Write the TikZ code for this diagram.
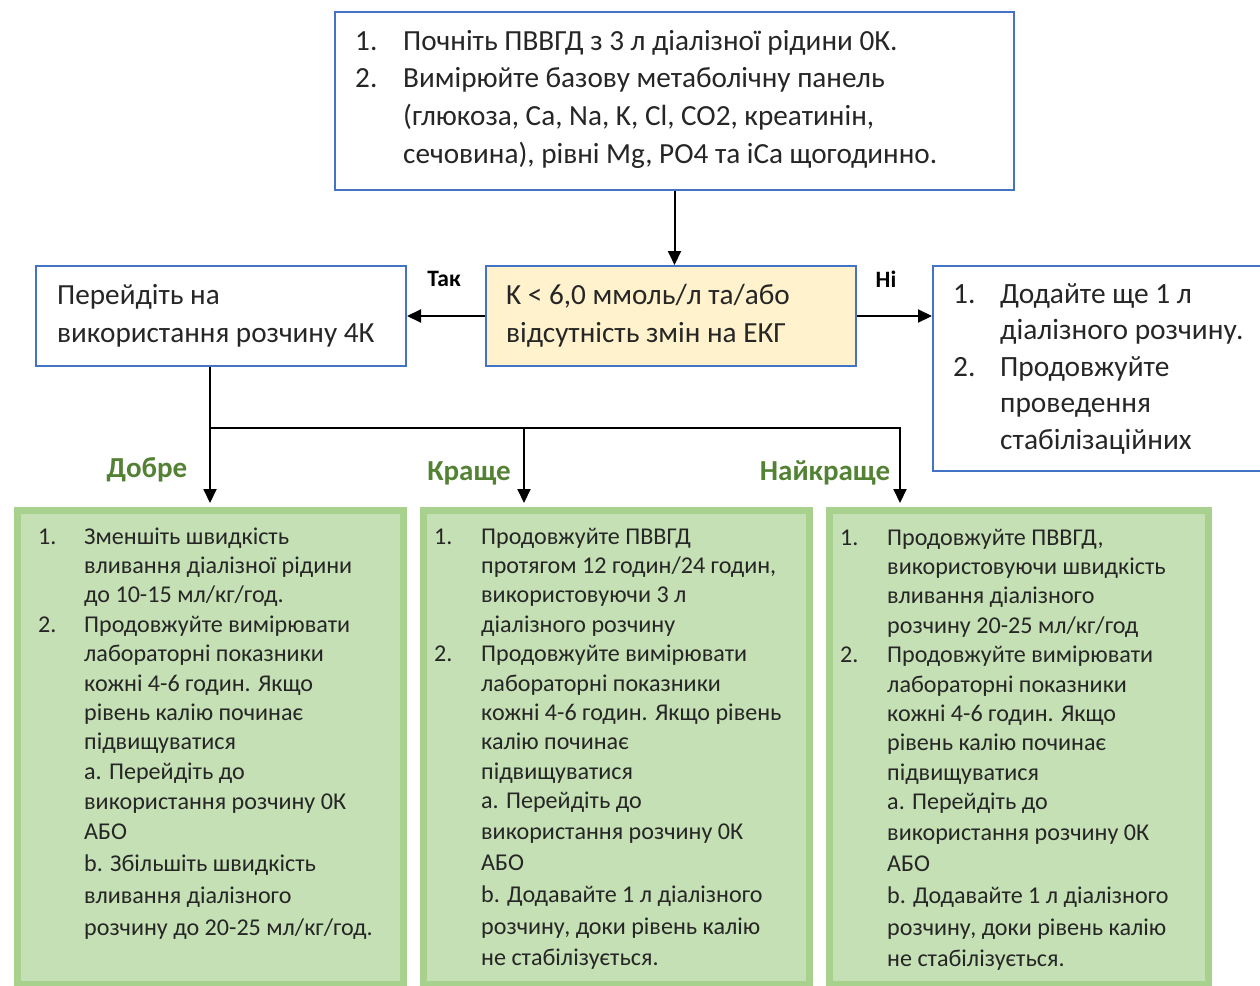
\documentclass[tikz,border=0pt]{standalone}
\usepackage{fontspec}
\setmainfont{Carlito}
\usepackage{array}
\usetikzlibrary{arrows.meta}
\definecolor{bblue}{HTML}{4472C4}
\definecolor{yel}{HTML}{FFF2CC}
\definecolor{gfill}{HTML}{C5E0B4}
\definecolor{gbord}{HTML}{A9D18E}
\definecolor{gshad}{RGB}{150,165,140}
\definecolor{glab}{HTML}{548235}
\definecolor{txt}{HTML}{262626}
\begin{document}
\begin{tikzpicture}[x=1pt,y=-1pt,
  bluebox/.style={draw=bblue, line width=2pt, fill=white, inner sep=0pt, anchor=north west},
  condbox/.style={draw=bblue, line width=2pt, fill=yel, inner sep=0pt, anchor=north west},
  greenbox/.style={draw=gbord, line width=7pt, fill=gfill, inner sep=0pt, anchor=north west},
  shadowbox/.style={fill=gshad, draw=none, inner sep=0pt, anchor=north west},
  flow/.style={line width=2pt, -{Triangle[width=13pt,length=14pt]}},
  plainline/.style={line width=2pt},
  lbl/.style={font=\fontsize{23.5}{26}\selectfont\bfseries, text=black, inner sep=0pt},
  glbl/.style={font=\fontsize{29}{32}\selectfont\bfseries, text=glab, inner sep=0pt},
  bigtxt/.style={font=\fontsize{29.2}{37.7}\selectfont, text=txt, inner sep=0pt, anchor=base west},
  midtxt/.style={font=\fontsize{29.2}{38}\selectfont, text=txt, inner sep=0pt, anchor=base west},
  rtxt/.style={font=\fontsize{29.4}{36.5}\selectfont, text=txt, inner sep=0pt, anchor=base west},
  gtxt/.style={font=\fontsize{24.1}{29.4}\selectfont, text=txt, inner sep=0pt, anchor=base west},
]
\useasboundingbox (0,0) rectangle (1260,985);
\clip (0,0) rectangle (1260,985);
\fill[white] (0,0) rectangle (1260,985);

% top box
\node[bluebox, minimum width=679pt, minimum height=178pt] (top) at (334,11) {};
\node[bigtxt] (toptext) at (355,50) {\begin{tabular}[t]{@{}p{48pt}@{}l@{}}
1. & Почніть ПВВГД з 3 л діалізної рідини 0К.\\
2. & Вимірюйте базову метаболічну панель\\
   & (глюкоза, Ca, Na, K, Cl, CO2, креатинін,\\
   & сечовина), рівні Mg, PO4 та iCa щогодинно.
\end{tabular}};

% condition box
\node[condbox, minimum width=370pt, minimum height=100pt] (cond) at (485,265) {};
\node[midtxt] (condtext) at (506,304) {\begin{tabular}[t]{@{}l@{}}
K < 6,0 ммоль/л та/або\\
відсутність змін на ЕКГ
\end{tabular}};

% left box
\node[bluebox, minimum width=370pt, minimum height=100pt] (left) at (35,265) {};
\node[midtxt] (lefttext) at (57,304) {\begin{tabular}[t]{@{}l@{}}
Перейдіть на\\
використання розчину 4К
\end{tabular}};

% right box
\node[bluebox, minimum width=345pt, minimum height=205pt] (right) at (932,265) {};
\node[rtxt] (righttext) at (953,303) {\begin{tabular}[t]{@{}p{47pt}@{}l@{}}
1. & Додайте ще 1 л\\
   & діалізного розчину.\\
2. & Продовжуйте\\
   & проведення\\
   & стабілізаційних
\end{tabular}};

% labels
\node[lbl] (yes) at (444,279) {Так};
\node[lbl] (no) at (886,279) {Ні};
\node[glbl] (good) at (147,470) {Добре};
\node[glbl] (better) at (469,473) {Краще};
\node[glbl] (best) at (825,473) {Найкраще};

% green boxes with shadows
\node[shadowbox, minimum width=393pt, minimum height=485pt] (s1) at (14,507) {};
\node[shadowbox, minimum width=393pt, minimum height=485pt] (s2) at (420,507) {};
\node[shadowbox, minimum width=386pt, minimum height=485pt] (s3) at (826,507) {};
\node[greenbox, minimum width=386pt, minimum height=474pt] (g1) at (13.5,506.5) {};
\node[greenbox, minimum width=386pt, minimum height=474pt] (g2) at (419.5,506.5) {};
\node[greenbox, minimum width=379pt, minimum height=474pt] (g3) at (825.5,506.5) {};

\node[gtxt] (g1text) at (38,544) {\begin{tabular}[t]{@{}p{46pt}@{}l@{}}
1. & Зменшіть швидкість\\
   & вливання діалізної рідини\\
   & до 10-15 мл/кг/год.\\
2. & Продовжуйте вимірювати\\
   & лабораторні показники\\
   & кожні 4-6 годин. Якщо\\
   & рівень калію починає\\
   & підвищуватися\\
   & a. Перейдіть до\\[0.5pt]
   & використання розчину 0К\\[0.5pt]
   & АБО\\[3pt]
   & b. Збільшіть швидкість\\[2.5pt]
   & вливання діалізного\\[2.5pt]
   & розчину до 20-25 мл/кг/год.
\end{tabular}};

\node[gtxt] (g2text) at (434,544) {\begin{tabular}[t]{@{}p{47pt}@{}l@{}}
1. & Продовжуйте ПВВГД\\
   & протягом 12 годин/24 годин,\\
   & використовуючи 3 л\\
   & діалізного розчину\\
2. & Продовжуйте вимірювати\\
   & лабораторні показники\\
   & кожні 4-6 годин. Якщо рівень\\
   & калію починає\\
   & підвищуватися\\
   & a. Перейдіть до\\[1.5pt]
   & використання розчину 0К\\[1.5pt]
   & АБО\\[3pt]
   & b. Додавайте 1 л діалізного\\[2.5pt]
   & розчину, доки рівень калію\\[1.5pt]
   & не стабілізується.
\end{tabular}};

\node[gtxt] (g3text) at (840,545) {\begin{tabular}[t]{@{}p{47pt}@{}l@{}}
1. & Продовжуйте ПВВГД,\\
   & використовуючи швидкість\\
   & вливання діалізного\\
   & розчину 20-25 мл/кг/год\\
2. & Продовжуйте вимірювати\\
   & лабораторні показники\\
   & кожні 4-6 годин. Якщо\\
   & рівень калію починає\\
   & підвищуватися\\
   & a. Перейдіть до\\[1.5pt]
   & використання розчину 0К\\[1.5pt]
   & АБО\\[3pt]
   & b. Додавайте 1 л діалізного\\[2.5pt]
   & розчину, доки рівень калію\\[1.5pt]
   & не стабілізується.
\end{tabular}};

% connectors
\coordinate (j1) at (210,428);
\coordinate (j2) at (524,428);
\coordinate (j3) at (900,428);
\draw[flow] (top.south) -- (cond.north -| top.south);
\draw[flow] (cond.west) -- (left.east);
\draw[flow] (cond.east) -- (right.west |- cond.east);
\draw[plainline] (left.south -| j1) -- (j1);
\draw[plainline] ([xshift=-1pt]j1) -- ([xshift=1pt]j3);
\draw[flow, shorten >=3.5pt] (j1) -- (g1.north -| j1);
\draw[flow, shorten >=3.5pt] (j2) -- (g2.north -| j2);
\draw[flow, shorten >=3.5pt] (j3) -- (g3.north -| j3);
\end{tikzpicture}
\end{document}
